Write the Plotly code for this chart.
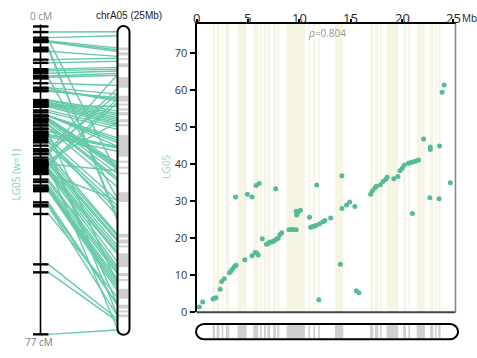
import plotly.graph_objects as go

# ---------------- data ----------------
# physical position (Mb) and genetic position (cM) of each marker
marker_mb = [0.27, 0.6, 1.6, 1.75, 1.9, 2.3, 2.45, 2.7, 3.2, 3.35, 3.5, 3.7, 3.8, 3.85,
             4.7, 4.95, 5.4, 5.4, 5.7, 5.8, 5.85, 6.0, 6.1, 6.4, 6.8, 7.0, 7.15, 7.35,
             7.5, 7.65, 7.7, 7.8, 7.95, 8.1, 8.3, 9.0, 9.2, 9.4, 9.7, 9.7, 9.75, 9.85,
             10.1, 11.0, 11.1, 11.3, 11.45, 11.6, 11.7, 11.9, 11.95, 12.3, 12.5, 13.05,
             14.0, 14.15, 14.15, 14.6, 14.9, 15.4, 15.55, 15.8, 16.95, 17.1, 17.35, 17.5,
             17.9, 18.15, 18.4, 18.55, 19.2, 19.6, 19.8, 20.0, 20.2, 20.6, 20.85, 21.0,
             21.1, 21.35, 21.6, 22.1, 22.7, 22.75, 22.75, 23.6, 23.65, 23.9, 24.1, 24.7]
marker_cm = [1.4, 2.8, 3.6, 3.8, 3.9, 6.2, 8.3, 9.1, 10.7, 11.1, 11.7, 12.4, 31.2, 12.7,
             14.2, 31.9, 15.3, 31.2, 16.2, 34.3, 16.0, 15.5, 34.8, 19.9, 18.4, 18.6, 19.0, 19.0,
             19.3, 19.5, 33.4, 19.8, 20.1, 21.0, 21.5, 22.3, 22.4, 22.4, 22.3, 27.3, 26.3, 27.0,
             27.6, 25.7, 23.0, 23.2, 23.3, 23.5, 34.4, 3.4, 23.9, 24.5, 24.8, 25.5,
             13.0, 36.9, 28.1, 29.0, 29.8, 28.6, 5.8, 5.3, 31.9, 32.8, 33.6, 34.1,
             34.5, 35.4, 35.9, 36.5, 36.1, 36.7, 38.3, 38.9, 39.8, 40.3, 40.5, 26.7,
             40.7, 40.9, 41.2, 46.9, 31.0, 44.7, 44.0, 30.7, 45.0, 59.5, 61.5, 35.0]
# marker at the end of the linkage group that is only drawn as a link
link_only_mb = [24.8]
link_only_cm = [77.0]

# gray bands of chrA05 (Mb)
band_start = [1.57, 1.96, 2.45, 2.87, 4.0, 5.53, 6.18, 6.57, 6.89, 7.47, 7.86, 8.77,
              10.88, 11.37, 11.85, 13.47, 16.88, 17.36, 17.85, 18.5, 20.12, 20.61,
              21.42, 22.72, 23.2, 23.52]
band_end = [1.80, 2.22, 2.61, 3.19, 4.88, 6.02, 6.34, 6.76, 7.15, 7.73, 8.06, 10.55,
            11.04, 11.53, 12.01, 14.28, 17.2, 17.69, 18.01, 19.63, 20.38, 20.77,
            22.23, 23.04, 23.36, 23.75]

x_ticks = [0, 5, 10, 15, 20, 25]
y_ticks = [0, 10, 20, 30, 40, 50, 60, 70]
lg_length_cm = 77
chrom_length_mb = 25
rho_text = "<i>ρ</i>=0.804"
chrom_label = "chrA05 (25Mb)"
lg_label = "LG05 (w=1)"
y_title = "LG05"

# ---------------- layout constants (pixels) ----------------
W, H = 477, 358
GREEN_LINE = "#66c9a9"
GREEN_DOT = "#55bb97"
BAND_GRAY = "#cfcfcf"
BAND_BEIGE = "rgba(232,225,180,0.38)"

SC_L, SC_R, SC_T, SC_B = 196.5, 455.5, 24.0, 318.5
X_MAX = 25.2
Y_MAX = 78.1
K = (SC_R - SC_L) / X_MAX  # px per Mb

LG_X = 40.5
LG_T, LG_B = 27.0, 341.0
TICK_L, TICK_R = 33.0, 48.5
CH_X0, CH_X1 = 117.5, 129.5
CH_T, CH_B = 26.5, 341.5
CH_Y0, CH_Y1 = 29.0, 339.0   # y of 0 Mb and 25 Mb


def y_lg(c):
    return LG_T + c * (LG_B - LG_T) / lg_length_cm


def y_chr(m):
    return CH_Y0 + m * (CH_Y1 - CH_Y0) / chrom_length_mb


def vpath(x0, x1, y0, y1):
    r = (x1 - x0) / 2
    c = 0.5523 * r
    cx = (x0 + x1) / 2
    return (f"M {x0},{y0 + r} C {x0},{y0 + r - c} {cx - c},{y0} {cx},{y0} "
            f"C {cx + c},{y0} {x1},{y0 + r - c} {x1},{y0 + r} L {x1},{y1 - r} "
            f"C {x1},{y1 - r + c} {cx + c},{y1} {cx},{y1} "
            f"C {cx - c},{y1} {x0},{y1 - r + c} {x0},{y1 - r} Z")


def hpath(x0, x1, y0, y1, rx):
    ry = (y1 - y0) / 2
    cxk = 0.5523 * rx
    cyk = 0.5523 * ry
    cy = (y0 + y1) / 2
    return (f"M {x0 + rx},{y0} L {x1 - rx},{y0} "
            f"C {x1 - rx + cxk},{y0} {x1},{cy - cyk} {x1},{cy} "
            f"C {x1},{cy + cyk} {x1 - rx + cxk},{y1} {x1 - rx},{y1} "
            f"L {x0 + rx},{y1} "
            f"C {x0 + rx - cxk},{y1} {x0},{cy + cyk} {x0},{cy} "
            f"C {x0},{cy - cyk} {x0 + rx - cxk},{y0} {x0 + rx},{y0} Z")


fig = go.Figure()

# ---------- left panel: linkage group, links, vertical chromosome ----------
all_mb = marker_mb + link_only_mb
all_cm = marker_cm + link_only_cm
lx, ly = [], []
for m, c in zip(all_mb, all_cm):
    lx += [TICK_R, CH_X0, None]
    ly += [y_lg(c), y_chr(m), None]
fig.add_trace(go.Scatter(x=lx, y=ly, mode="lines", xaxis="x2", yaxis="y2",
                         line=dict(color=GREEN_LINE, width=1.4),
                         hoverinfo="skip", showlegend=False))

fig.add_trace(go.Scatter(x=[LG_X, LG_X], y=[LG_T - 2, LG_B], mode="lines",
                         xaxis="x2", yaxis="y2", line=dict(color="black", width=1.6),
                         hoverinfo="skip", showlegend=False))
tx, ty = [], []
for c in [0] + all_cm:
    tx += [TICK_L, TICK_R, None]
    ty += [y_lg(c), y_lg(c), None]
fig.add_trace(go.Scatter(x=tx, y=ty, mode="lines", xaxis="x2", yaxis="y2",
                         line=dict(color="black", width=2.4),
                         hoverinfo="skip", showlegend=False))

shapes = []
for s, e in zip(band_start, band_end):
    shapes.append(dict(type="rect", xref="x2", yref="y2", x0=CH_X0 + 1, x1=CH_X1 - 1,
                       y0=y_chr(s), y1=y_chr(e), fillcolor=BAND_GRAY,
                       line=dict(width=0), layer="above"))
shapes.append(dict(type="path", xref="x2", yref="y2",
                   path=vpath(CH_X0, CH_X1, CH_T, CH_B),
                   line=dict(color="black", width=2), fillcolor="rgba(0,0,0,0)",
                   layer="above"))

# ---------- scatter panel ----------
for s, e in zip(band_start, band_end):
    shapes.append(dict(type="rect", xref="x", yref="y", x0=s, x1=e, y0=0, y1=Y_MAX,
                       fillcolor=BAND_BEIGE, line=dict(width=0), layer="below"))
fig.add_trace(go.Scatter(x=marker_mb, y=marker_cm, mode="markers", xaxis="x", yaxis="y",
                         marker=dict(color=GREEN_DOT, size=5),
                         hoverinfo="skip", showlegend=False))
shapes.append(dict(type="line", xref="paper", yref="paper",
                   x0=SC_L / W, x1=SC_R / W, y0=1 - SC_B / H, y1=1 - SC_B / H,
                   line=dict(color="#444", width=2)))
shapes.append(dict(type="line", xref="paper", yref="paper",
                   x0=SC_R / W, x1=SC_R / W, y0=1 - SC_B / H, y1=1 - SC_T / H,
                   line=dict(color="#888", width=1.6)))

# ---------- bottom horizontal chromosome ----------
B_T, B_B = 330.5, 346.0
bx0, bx1 = 188.0, 466.0
for s, e in zip(band_start, band_end):
    shapes.append(dict(type="rect", xref="x3", yref="y3", x0=s, x1=e,
                       y0=B_T + 1, y1=B_B - 1, fillcolor=BAND_GRAY,
                       line=dict(width=0), layer="above"))
shapes.append(dict(type="path", xref="x3", yref="y3",
                   path=hpath(-0.05, 25.45, B_T, B_B, 8.0 / K),
                   line=dict(color="black", width=2), fillcolor="rgba(0,0,0,0)",
                   layer="above"))

FONT = "Open Sans"


def ann(text, x, y, xref="paper", yref="paper", size=10, color="#222",
        family=FONT, angle=0, xanchor="center"):
    return dict(text=text, x=x, y=y, xref=xref, yref=yref, showarrow=False,
                xanchor=xanchor, yanchor="middle", textangle=angle,
                font=dict(size=size, color=color, family=family))


annotations = [
    ann("0 cM", 41, 16.5, "x2", "y2", color="#8a8a8a"),
    ann("77 cM", 39, 349, "x2", "y2", color="#777"),
    ann(chrom_label, 129, 16, "x2", "y2", color="#222", family="Liberation Sans"),
    ann(lg_label, 16, 178, "x2", "y2", color="#7bcfb3", angle=-90),
    ann(y_title, 166 / W, 1 - 170 / H, color="#93d8bf", angle=-90),
    ann(rho_text, 327 / W, 1 - 34 / H, color="#999"),
    ann("Mb", 459.5 / W, 1 - 18.5 / H, size=10, color="#222", xanchor="left"),
]
# top x tick labels, placed close to the axis line
for t in x_ticks:
    annotations.append(ann(str(t), t, 1 - 18.5 / H, "x", "paper", size=13, color="#222"))

fig.update_layout(
    width=W, height=H, margin=dict(l=0, r=0, t=0, b=0),
    paper_bgcolor="white", plot_bgcolor="rgba(0,0,0,0)",
    showlegend=False, shapes=shapes, annotations=annotations,
    xaxis=dict(domain=[SC_L / W, SC_R / W], range=[0, X_MAX], side="top",
               tickvals=x_ticks, ticks="outside", ticklen=3, tickwidth=1.5,
               tickcolor="black", showline=True, linecolor="black", linewidth=2,
               showgrid=False, zeroline=False, anchor="y", showticklabels=False),
    yaxis=dict(domain=[1 - SC_B / H, 1 - SC_T / H], range=[0, Y_MAX],
               tickvals=y_ticks, ticks="outside", ticklen=5, tickwidth=1.5,
               tickcolor="black", showline=True, linecolor="black", linewidth=2,
               showgrid=False, zeroline=False, anchor="x",
               tickfont=dict(size=11, color="#333", family=FONT)),
    xaxis2=dict(domain=[0, 175 / W], range=[0, 175], visible=False, anchor="y2"),
    yaxis2=dict(domain=[0, 1], range=[H, 0], visible=False, anchor="x2"),
    xaxis3=dict(domain=[bx0 / W, bx1 / W], range=[(bx0 - SC_L) / K, (bx1 - SC_L) / K],
                visible=False, anchor="y3"),
    yaxis3=dict(domain=[1 - 352 / H, 1 - 325 / H], range=[352, 325], visible=False,
                anchor="x3"),
)

fig.write_html("out.html")
